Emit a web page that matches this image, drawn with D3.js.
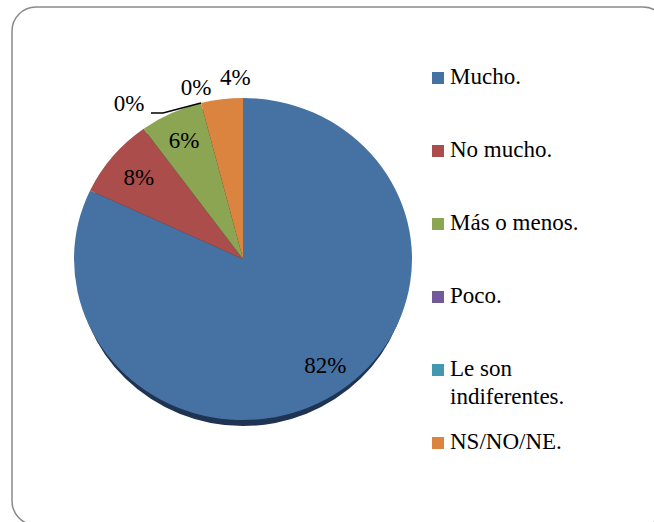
<!DOCTYPE html>
<html>
<head>
<meta charset="utf-8">
<script src="https://cdn.jsdelivr.net/npm/d3@7"></script>
<style>
  @font-face { font-family: "ChartSerif"; src: local("Liberation Serif"), local("LiberationSerif"), local("Times New Roman"); }
  svg text, svg tspan { font-family: "Liberation Serif", "ChartSerif", "Times New Roman", serif !important; }
</style>
</head>
<body style="margin:0">
<div id="chart"></div>
<script>
// data
var categories = ["Mucho.", "No mucho.", "Más o menos.", "Poco.", "Le son indiferentes.", "NS/NO/NE."];
var values = [82, 8, 6, 0, 0, 4];
var pctLabels = ["82%", "8%", "6%", "0%", "0%", "4%"];
var colors = ["#4672a3", "#aa4d4b", "#8ba552", "#71599c", "#4298b0", "#da8440"];

var width = 654, height = 522;
var cx = 243, cy = 259, rx = 169, ry = 161;
var fontSize = "23px";
var serif = "Liberation Serif";

var svg = d3.select("#chart").append("svg")
  .attr("width", width).attr("height", height);

// outer frame
svg.append("rect")
  .attr("x", 12).attr("y", 7)
  .attr("width", 655).attr("height", 518)
  .attr("rx", 24).attr("ry", 24)
  .attr("fill", "#fff")
  .attr("stroke", "#8a8a8a").attr("stroke-width", 1.5);

var pie = d3.pie().sort(null).value(function(d) { return d; });
var arcs = pie(values);
var arc = d3.arc().innerRadius(0).outerRadius(rx);

var g = svg.append("g")
  .attr("transform", "translate(" + cx + "," + cy + ") scale(1," + (ry / rx) + ")");

// bottom rim of the tilted pie
g.append("ellipse")
  .attr("cx", 0).attr("cy", 6 * rx / ry)
  .attr("rx", rx - 3).attr("ry", rx)
  .attr("fill", "#1f3452");

g.selectAll("path.slice").data(arcs).enter().append("path")
  .attr("class", "slice")
  .attr("d", arc)
  .attr("fill", function(d, i) { return colors[i]; });

// label placement: radius factor, dx, dy
var labelLayout = [[0.82, 8, -6], [0.8, 0, 0], [0.82, 0, 0], [1.0, -72, 0], [1.0, -5, -16], [1.12, 16, -3]];

function pointAt(angle, r) {
  return [cx + Math.sin(angle) * r, cy - Math.cos(angle) * r * ry / rx];
}

arcs.forEach(function(d, i) {
  var mid = (d.startAngle + d.endAngle) / 2;
  var lay = labelLayout[i];
  var p = pointAt(mid, rx * lay[0]);
  svg.append("text")
    .attr("x", p[0] + lay[1]).attr("y", p[1] + lay[2])
    .attr("dy", "0.35em")
    .attr("text-anchor", "middle")
    .attr("font-family", serif)
    .style("font-family", serif)
    .style("font-size", fontSize)
    .text(pctLabels[i]);
});

// leader line for the first 0% label
var edge = pointAt(arcs[3].startAngle, rx);
svg.append("polyline")
  .attr("points", [edge, [edge[0] - 38, edge[1] + 10], [edge[0] - 50, edge[1] + 10]].map(function(p) { return p.join(","); }).join(" "))
  .attr("fill", "none").attr("stroke", "#000").attr("stroke-width", 1.5);

// legend
var legY = d3.scalePoint().domain(categories).range([84, 449]);
var leg = svg.selectAll("g.leg").data(categories).enter().append("g")
  .attr("class", "leg")
  .attr("transform", function(d) { return "translate(432," + legY(d) + ")"; });

leg.append("rect")
  .attr("x", 0).attr("y", -12).attr("width", 12).attr("height", 12)
  .attr("fill", function(d, i) { return colors[i]; });

leg.append("text")
  .attr("x", 18).attr("y", 0)
  .attr("font-family", serif)
  .style("font-family", serif)
  .style("font-size", fontSize)
  .each(function(d) {
    var t = d3.select(this);
    if (d === "Le son indiferentes.") {
      t.append("tspan").attr("x", 18).attr("dy", 0).text("Le son");
      t.append("tspan").attr("x", 18).attr("dy", 28).text("indiferentes.");
    } else {
      t.text(d);
    }
  });
</script>
</body>
</html>
